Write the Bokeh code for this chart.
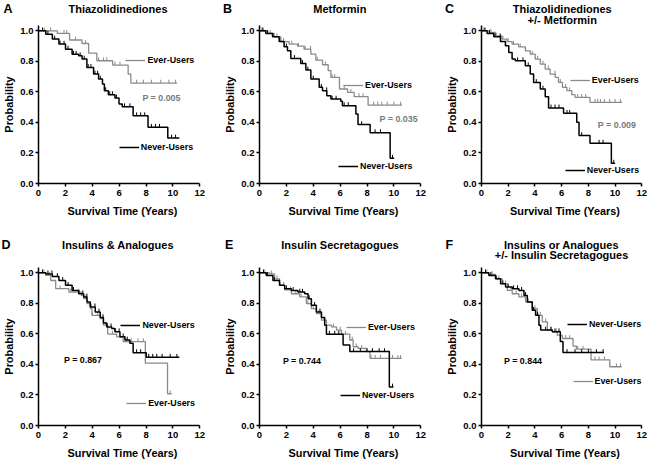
import numpy as np
from bokeh.plotting import figure
from bokeh.models import Label, FixedTicker, NumeralTickFormatter, Range1d, Legend, LegendItem
from bokeh.layouts import column, row
from bokeh.embed import file_html
from bokeh.resources import INLINE

# ---------------- data ----------------
# A: Thiazolidinediones
A_ever_t = [0, 1.4, 2.31, 3.24, 3.73, 4.34, 5.52, 6.67, 6.87, 10.31]
A_ever_s = [1.0, 0.983, 0.94, 0.917, 0.854, 0.804, 0.776, 0.717, 0.658, 0.658]
A_ever_c = [0.42, 0.9, 1.9, 2.1, 2.75, 3.5, 4.47, 4.83, 5.08, 5.7, 6.06, 7.3, 7.8, 8.4, 9.1, 9.7, 10.2]
A_never_t = [0, 0.54, 1.03, 1.52, 2.01, 2.5, 2.99, 3.24, 3.6, 4.1, 4.47, 4.76, 4.9, 5.2, 5.69, 5.99, 6.23, 7.04, 8.15, 9.62, 10.48]
A_never_s = [1.0, 0.978, 0.946, 0.913, 0.88, 0.847, 0.837, 0.815, 0.76, 0.717, 0.684, 0.651, 0.608, 0.582, 0.56, 0.52, 0.503, 0.444, 0.368, 0.298, 0.298]
A_never_c = [0.3, 0.7, 1.2, 1.6, 1.9, 2.2, 2.6, 2.8, 3.1, 3.4, 3.7, 3.9, 4.2, 4.4, 4.6, 5.0, 5.3, 5.5, 5.8, 6.4, 6.8, 7.3, 7.6, 7.9, 8.4, 8.7, 9.0, 9.9, 10.2]

# B: Metformin
B_ever_t = [0, 0.6, 1.09, 1.59, 2.2, 2.83, 3.32, 3.82, 4.19, 4.69, 5.11, 5.31, 5.95, 6.55, 7.04, 8.08, 10.6]
B_ever_s = [1.0, 0.983, 0.961, 0.93, 0.913, 0.9, 0.88, 0.847, 0.808, 0.778, 0.739, 0.695, 0.619, 0.597, 0.569, 0.514, 0.514]
B_ever_c = [0.3, 0.8, 1.3, 1.8, 2.4, 2.9, 3.4, 3.8, 4.3, 4.9, 5.4, 5.6, 6.3, 6.8, 7.4, 7.7, 8.5, 8.8, 9.1, 9.5, 10.0, 10.5]
B_never_t = [0, 0.47, 0.97, 1.46, 1.83, 2.08, 2.33, 3.07, 3.45, 3.82, 4.44, 4.69, 5.01, 5.31, 6.05, 6.17, 7.17, 7.33, 8.23, 9.72, 10.02]
B_never_s = [1.0, 0.983, 0.961, 0.93, 0.895, 0.869, 0.819, 0.786, 0.743, 0.684, 0.63, 0.608, 0.575, 0.553, 0.538, 0.51, 0.455, 0.386, 0.333, 0.166, 0.166]
B_never_c = [0.2, 0.6, 1.0, 1.5, 2.0, 2.6, 3.2, 3.6, 4.0, 4.6, 5.0, 5.4, 5.7, 6.3, 6.6, 7.6, 8.6, 9.0, 9.9]

# C: Thiazolidinediones +/- Metformin
C_ever_t = [0, 0.55, 1.04, 1.54, 1.91, 2.29, 2.78, 3.28, 3.65, 4.02, 4.4, 4.77, 5.14, 5.52, 5.76, 6.06, 6.39, 6.76, 7.0, 8.12, 10.53]
C_ever_s = [1.0, 0.99, 0.967, 0.946, 0.93, 0.913, 0.895, 0.869, 0.847, 0.815, 0.782, 0.749, 0.717, 0.695, 0.662, 0.63, 0.608, 0.582, 0.564, 0.532, 0.532]
C_ever_c = [0.3, 0.7, 1.1, 1.6, 2.0, 2.4, 2.9, 3.3, 3.8, 4.2, 4.6, 5.0, 5.5, 5.9, 6.3, 6.6, 7.2, 7.5, 7.8, 8.5, 8.7, 8.9, 9.2, 9.6, 10.0, 10.4]
C_never_t = [0, 0.42, 0.92, 1.42, 1.79, 2.04, 2.29, 2.53, 3.28, 3.65, 3.9, 4.4, 4.77, 5.02, 6.14, 7.13, 7.3, 8.12, 9.72, 10.0]
C_never_s = [1.0, 0.983, 0.961, 0.93, 0.902, 0.858, 0.815, 0.804, 0.771, 0.717, 0.662, 0.619, 0.569, 0.495, 0.46, 0.401, 0.314, 0.264, 0.133, 0.133]
C_never_c = [0.2, 0.6, 1.0, 1.4, 1.8, 2.7, 3.1, 3.5, 4.1, 4.6, 5.2, 5.5, 5.8, 6.4, 6.6, 7.5, 8.8, 9.1, 9.9]

# D: Insulins & Analogues
D_ever_t = [0, 0.54, 0.91, 1.28, 2.26, 3.19, 3.36, 3.61, 3.85, 3.98, 4.59, 4.83, 5.15, 5.82, 6.3, 7.95, 9.6, 9.9]
D_ever_s = [1.0, 0.983, 0.95, 0.896, 0.874, 0.852, 0.831, 0.798, 0.766, 0.722, 0.701, 0.657, 0.598, 0.58, 0.549, 0.408, 0.208, 0.208]
D_ever_c = [0.4, 0.8, 1.6, 2.4, 3.0, 3.5, 4.0, 4.4, 5.0, 5.5, 6.5, 6.9, 7.4, 7.8, 9.8]
D_never_t = [0, 0.54, 1.03, 1.52, 2.01, 2.5, 2.99, 3.36, 3.61, 3.85, 4.22, 4.59, 4.83, 5.08, 5.45, 5.69, 6.06, 6.43, 6.8, 7.04, 8.02, 10.48]
D_never_s = [1.0, 0.993, 0.976, 0.95, 0.918, 0.885, 0.863, 0.842, 0.809, 0.777, 0.744, 0.707, 0.672, 0.646, 0.636, 0.614, 0.581, 0.56, 0.538, 0.477, 0.447, 0.447]
D_never_c = [0.3, 0.7, 1.0, 1.4, 1.8, 2.2, 2.6, 3.0, 3.3, 3.6, 3.9, 4.2, 4.5, 4.8, 5.1, 5.4, 5.7, 6.0, 6.3, 6.6, 7.3, 7.6, 8.2, 8.5, 8.8, 9.2, 9.8, 10.3]

# E: Insulin Secretagogues
E_ever_t = [0, 0.75, 1.12, 1.49, 1.87, 2.37, 2.99, 3.49, 3.86, 4.23, 4.61, 4.98, 5.35, 5.73, 6.1, 6.72, 6.97, 7.34, 7.97, 8.22, 10.58]
E_ever_s = [1.0, 0.993, 0.961, 0.918, 0.889, 0.863, 0.842, 0.798, 0.766, 0.733, 0.69, 0.657, 0.646, 0.625, 0.598, 0.56, 0.516, 0.505, 0.484, 0.44, 0.44]
E_ever_c = [0.4, 0.9, 1.3, 1.8, 2.3, 2.7, 3.1, 3.6, 4.0, 4.4, 4.8, 5.5, 6.0, 6.4, 6.9, 7.2, 7.6, 8.3, 8.6, 9.0, 9.9, 10.3, 10.5]
E_never_t = [0, 0.5, 1.0, 1.49, 1.87, 2.37, 2.86, 3.36, 3.61, 3.86, 4.23, 4.61, 4.85, 4.98, 6.22, 6.72, 9.66, 9.96]
E_never_s = [1.0, 0.983, 0.95, 0.918, 0.896, 0.885, 0.874, 0.863, 0.831, 0.787, 0.744, 0.707, 0.657, 0.598, 0.527, 0.484, 0.252, 0.252]
E_never_c = [0.3, 0.6, 1.1, 1.5, 2.0, 2.5, 3.0, 3.2, 3.7, 4.1, 4.5, 5.2, 5.6, 5.9, 7.0, 7.5, 8.0, 8.4, 8.9, 9.3, 9.9]

# F: Insulins or Analogues +/- Insulin Secretagogues
F_ever_t = [0, 0.55, 1.05, 1.55, 1.93, 2.3, 2.8, 3.3, 3.8, 4.18, 4.55, 4.93, 5.3, 5.68, 6.05, 6.85, 7.1, 8.2, 9.6, 10.5]
F_ever_s = [1.0, 0.99, 0.961, 0.928, 0.885, 0.863, 0.842, 0.809, 0.766, 0.722, 0.679, 0.625, 0.614, 0.592, 0.57, 0.52, 0.5, 0.43, 0.385, 0.385]
F_ever_c = [0.4, 0.8, 1.3, 1.8, 2.2, 2.6, 3.0, 3.5, 4.0, 4.4, 4.8, 5.2, 5.6, 6.3, 6.6, 7.2, 7.6, 8.5, 8.8, 9.2, 10.1, 10.4]
F_never_t = [0, 0.55, 1.05, 1.43, 1.8, 2.3, 2.8, 3.18, 3.43, 3.8, 4.05, 4.3, 4.43, 5.3, 5.9, 6.1, 9.17]
F_never_s = [1.0, 0.983, 0.961, 0.928, 0.907, 0.896, 0.885, 0.852, 0.809, 0.755, 0.722, 0.657, 0.625, 0.614, 0.55, 0.478, 0.478]
F_never_c = [0.3, 0.7, 1.1, 1.6, 2.0, 2.4, 2.7, 3.0, 3.3, 3.9, 4.2, 4.8, 5.2, 5.5, 5.8, 6.4, 7.0, 7.5, 8.0, 8.6, 9.1]

panel_letters = ["A", "B", "C", "D", "E", "F"]
panel_titles = [["Thiazolidinediones"], ["Metformin"], ["Thiazolidinediones", "+/- Metformin"],
                ["Insulins & Analogues"], ["Insulin Secretagogues"],
                ["Insulins or Analogues", "+/- Insulin Secretagogues"]]
p_values = ["P = 0.005", "P = 0.035", "P = 0.009", "P = 0.867", "P = 0.744", "P = 0.844"]
x_ticks = [0, 2, 4, 6, 8, 10, 12]
y_ticks = [0.0, 0.2, 0.4, 0.6, 0.8, 1.0]
x_title = "Survival Time (Years)"
y_title = "Probability"

CURVES = {
    "A": ((A_ever_t, A_ever_s, A_ever_c), (A_never_t, A_never_s, A_never_c)),
    "B": ((B_ever_t, B_ever_s, B_ever_c), (B_never_t, B_never_s, B_never_c)),
    "C": ((C_ever_t, C_ever_s, C_ever_c), (C_never_t, C_never_s, C_never_c)),
    "D": ((D_ever_t, D_ever_s, D_ever_c), (D_never_t, D_never_s, D_never_c)),
    "E": ((E_ever_t, E_ever_s, E_ever_c), (E_never_t, E_never_s, E_never_c)),
    "F": ((F_ever_t, F_ever_s, F_ever_c), (F_never_t, F_never_s, F_never_c)),
}

# ---------------- layout / style ----------------
FONT = "Liberation Sans"
GRAY = "#8a8a8a"
BLACK = "#000000"
P_COLOR = {"A": "#7a7a7a", "B": "#7a7a7a", "C": "#7a7a7a", "D": BLACK, "E": BLACK, "F": BLACK}
X_END = 12.5          # frame extends a little past the last tick
Y_TOP = 1.035
COL_W = 216
HEAD_H = [25, 38]     # title strips
PLOT_H = [204, 196]
FRAME_H = 158
BOTTOM_B = [46, 38]
LEFT_B = {"A": 36, "B": 43, "C": 49, "D": 36, "E": 43, "F": 49}
FRAME_W = {"A": 170, "B": 168, "C": 167, "D": 170, "E": 168, "F": 167}
LETTER_POS = {"A": 3, "B": 222.5, "C": 444.5, "D": 1, "E": 224.5, "F": 445}
TITLE_CX = {"A": 117.5, "B": 339.3, "C": 561.7, "D": 117.5, "E": 339.5, "F": 561.0}
# vertical centres, measured from the top of each strip: letter, title line 1, title line 2
HEAD_MID = [(8.0, 8.0, 19.2), (15.7, 15.2, 25.5)]
# legend placements in data units: (line start, y centre) and P-value text position
LEG = {
    "A": {"ever": (6.43, 0.803), "never": (5.94, 0.236), "p": (7.73, 0.557)},
    "B": {"ever": (6.25, 0.644), "never": (5.88, 0.109), "p": (8.93, 0.422)},
    "C": {"ever": (6.65, 0.677), "never": (6.27, 0.083), "p": (8.71, 0.384)},
    "D": {"ever": (6.48, 0.144), "never": (6.06, 0.657), "p": (1.89, 0.432)},
    "E": {"ever": (6.47, 0.642), "never": (6.02, 0.194), "p": (1.74, 0.421)},
    "F": {"ever": (6.85, 0.290), "never": (6.43, 0.663), "p": (1.68, 0.421)},
}


def step_value(t, s, c):
    t = np.asarray(t)
    s = np.asarray(s)
    idx = np.searchsorted(t, np.asarray(c), side="right") - 1
    return s[np.clip(idx, 0, len(s) - 1)]


def make_header(r_i):
    H = HEAD_H[r_i]
    h = figure(width=3 * COL_W, height=H, x_range=Range1d(0, 3 * COL_W), y_range=Range1d(0, H),
               x_axis_type=None, y_axis_type=None, output_backend="svg", toolbar_location=None,
               title=None, min_border=0)
    h.outline_line_color = None
    h.xgrid.visible = False
    h.ygrid.visible = False
    lm, t1, t2 = HEAD_MID[r_i]
    for c_i in range(3):
        i = 3 * r_i + c_i
        key = panel_letters[i]
        h.add_layout(Label(x=LETTER_POS[key], y=H - lm, text=key, text_font=FONT,
                           text_font_size="12.5px", text_font_style="bold", text_color=BLACK,
                           text_align="left", text_baseline="middle"))
        mids = [t1, t2]
        for j, line in enumerate(panel_titles[i]):
            h.add_layout(Label(x=TITLE_CX[key], y=H - mids[j], text=line, text_font=FONT,
                               text_font_size="11px", text_font_style="bold", text_color=BLACK,
                               text_align="center", text_baseline="middle"))
    return h


def make_panel(i):
    key = panel_letters[i]
    r_i = i // 3
    bl = LEFT_B[key]
    fw = FRAME_W[key]
    br = COL_W - bl - fw
    p = figure(width=COL_W, height=PLOT_H[r_i], x_range=Range1d(0, X_END), y_range=Range1d(0, Y_TOP),
               output_backend="svg", toolbar_location=None, title=None,
               min_border_left=bl, min_border_right=br, min_border_top=0,
               min_border_bottom=BOTTOM_B[r_i])
    p.outline_line_color = None
    p.xgrid.visible = False
    p.ygrid.visible = False

    for ax in (p.xaxis[0], p.yaxis[0]):
        ax.axis_line_width = 1.5
        ax.axis_line_color = BLACK
        ax.major_tick_line_width = 1.5
        ax.major_tick_line_color = BLACK
        ax.major_tick_out = 3
        ax.major_tick_in = 0
        ax.minor_tick_line_color = None
        ax.major_label_text_font = FONT
        ax.major_label_text_font_size = "9.5px"
        ax.major_label_text_font_style = "bold"
        ax.major_label_text_color = BLACK
        ax.axis_label_text_font = FONT
        ax.axis_label_text_font_size = "10.9px"
        ax.axis_label_text_font_style = "bold"
        ax.axis_label_text_color = BLACK
    p.xaxis[0].ticker = FixedTicker(ticks=x_ticks)
    p.xaxis[0].bounds = (0, 12)
    p.yaxis[0].ticker = FixedTicker(ticks=y_ticks)
    p.yaxis[0].formatter = NumeralTickFormatter(format="0.0")
    p.xaxis[0].major_label_standoff = 3
    p.yaxis[0].major_label_standoff = 2
    p.xaxis[0].axis_label = x_title
    p.xaxis[0].axis_label_standoff = 6
    p.yaxis[0].axis_label = y_title
    p.yaxis[0].axis_label_standoff = 2

    (et, es, ec), (nt, ns, nc) = CURVES[key]
    r_ever = p.step(x=et, y=es, mode="after", line_color=GRAY, line_width=1.3)
    ecy = step_value(et, es, ec)
    p.segment(x0=ec, y0=ecy, x1=ec, y1=ecy + 0.022, line_color=GRAY, line_width=1)
    r_never = p.step(x=nt, y=ns, mode="after", line_color=BLACK, line_width=1.5)
    ncy = step_value(nt, ns, nc)
    p.segment(x0=nc, y0=ncy, x1=nc, y1=ncy + 0.022, line_color=BLACK, line_width=1)

    for name, rend, lab in (("ever", r_ever, "Ever-Users"), ("never", r_never, "Never-Users")):
        lx, ly = LEG[key][name]
        leg = Legend(items=[LegendItem(label=lab, renderers=[rend])],
                     location=(lx / X_END * fw, ly / Y_TOP * FRAME_H - 5),
                     padding=0, margin=0, spacing=0, border_line_color=None,
                     background_fill_alpha=0, glyph_width=20, glyph_height=10,
                     label_height=10, label_standoff=2, label_text_font=FONT,
                     label_text_font_size="8.9px", label_text_font_style="bold",
                     label_text_color=BLACK)
        p.add_layout(leg)

    px, py = LEG[key]["p"]
    p.add_layout(Label(x=px, y=py, text=p_values[i], text_font=FONT, text_font_size="8.9px",
                       text_font_style="bold", text_color=P_COLOR[key], text_baseline="middle"))
    return p


panels = [make_panel(i) for i in range(6)]
layout = column(make_header(0), row(*panels[:3]), make_header(1), row(*panels[3:]))
open("out.html", "w").write(file_html(layout, INLINE))
